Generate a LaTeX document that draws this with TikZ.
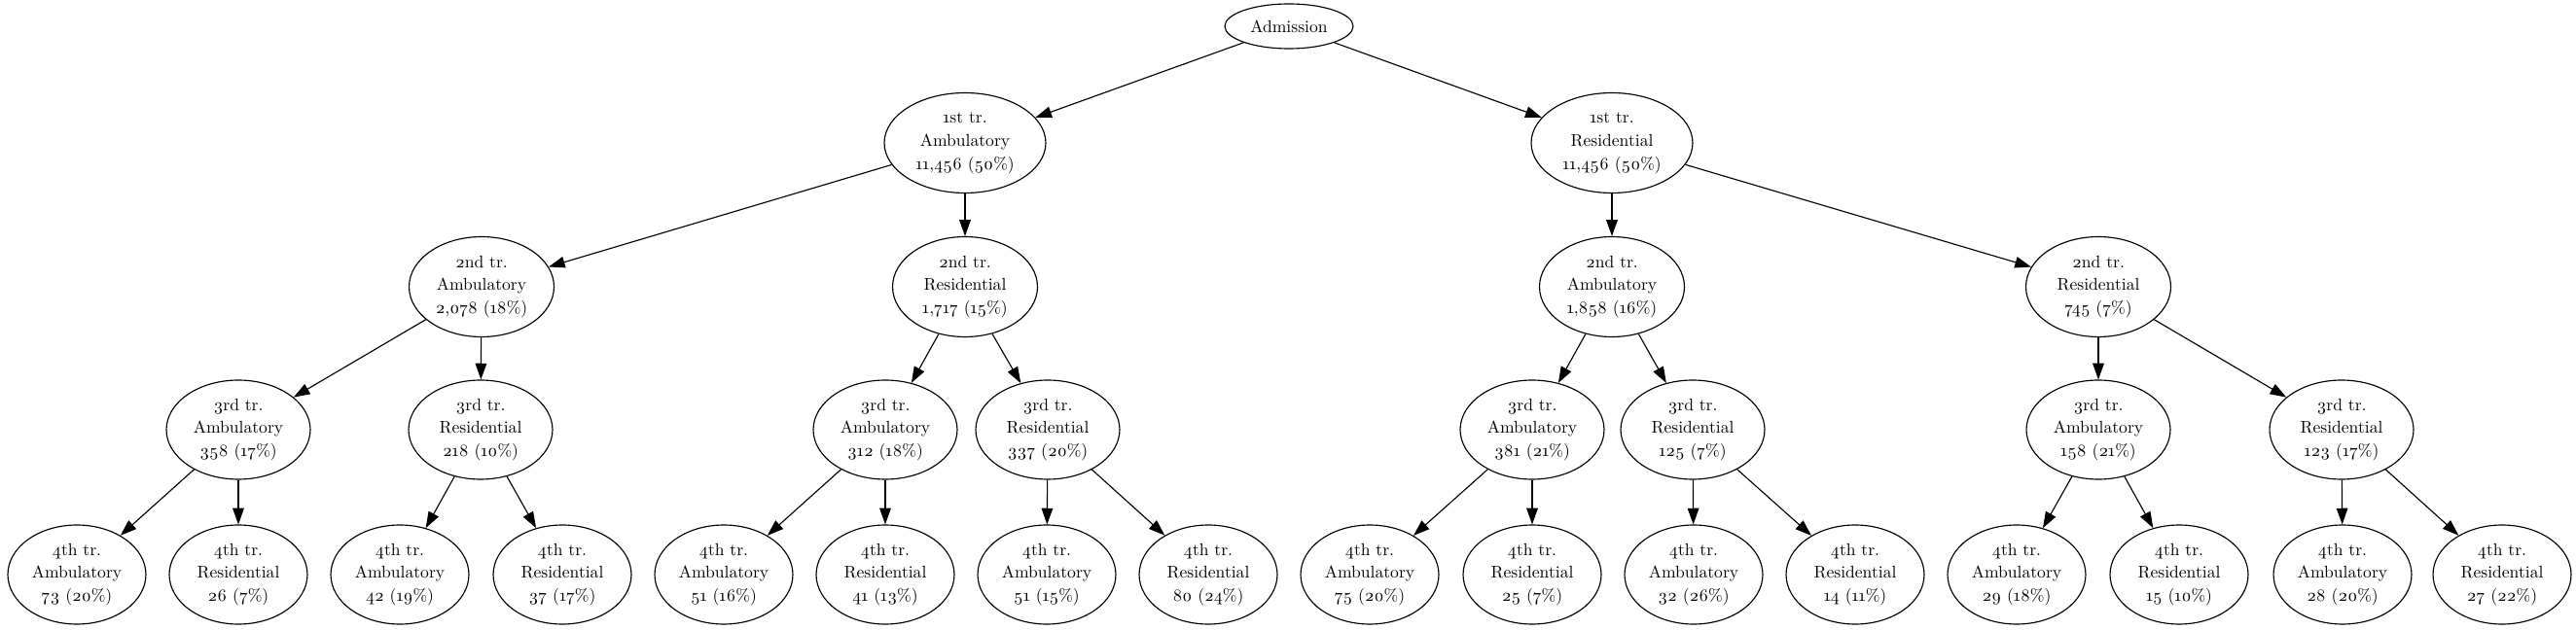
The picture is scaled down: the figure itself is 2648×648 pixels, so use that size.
\documentclass[tikz,border=0pt]{standalone}
\usepackage{fontspec}
\setmainfont{Latin Modern Roman}[Numbers=OldStyle]
\usetikzlibrary{shapes.geometric,arrows.meta}
\newcommand\osn[1]{#1}
\begin{document}
\begin{tikzpicture}[x=0.02cm,y=-0.02cm,
  every node/.style={ellipse,draw,line width=0.65pt,inner sep=0pt,align=center,
    font=\fontsize{10}{13.6}\selectfont},
  top/.style={minimum width=2.64cm,minimum height=0.92cm},
  lone/.style={minimum width=3.32cm,minimum height=2.06cm},
  ltwo/.style={minimum width=2.98cm,minimum height=2.06cm},
  lthree/.style={minimum width=2.96cm,minimum height=2.04cm},
  lfour/.style={minimum width=2.84cm,minimum height=2.04cm},
  edge/.style={line width=0.65pt,-{Triangle[length=9.5pt,width=6.6pt]}}]
\path[use as bounding box] (0,0) rectangle (2648,648);
\node[top] (adm) at (1325,27) {Admission};
% level 1
\node[lone] (a) at (992,147) {\osn{1}st tr.\\Ambulatory\\\osn{11},\osn{456} (\osn{50}\%)};
\node[lone] (r) at (1657,147) {\osn{1}st tr.\\Residential\\\osn{11},\osn{456} (\osn{50}\%)};
% level 2
\node[ltwo] (aa) at (495,295) {\osn{2}nd tr.\\Ambulatory\\\osn{2},\osn{078} (\osn{18}\%)};
\node[ltwo] (ar) at (992,295) {\osn{2}nd tr.\\Residential\\\osn{1},\osn{717} (\osn{15}\%)};
\node[ltwo] (ra) at (1657,295) {\osn{2}nd tr.\\Ambulatory\\\osn{1},\osn{858} (\osn{16}\%)};
\node[ltwo] (rr) at (2157,295) {\osn{2}nd tr.\\Residential\\\osn{745} (\osn{7}\%)};
% level 3
\node[lthree] (aaa) at (245,442) {\osn{3}rd tr.\\Ambulatory\\\osn{358} (\osn{17}\%)};
\node[lthree] (aar) at (494,442) {\osn{3}rd tr.\\Residential\\\osn{218} (\osn{10}\%)};
\node[lthree] (ara) at (910,442) {\osn{3}rd tr.\\Ambulatory\\\osn{312} (\osn{18}\%)};
\node[lthree] (arr) at (1077,442) {\osn{3}rd tr.\\Residential\\\osn{337} (\osn{20}\%)};
\node[lthree] (raa) at (1575,442) {\osn{3}rd tr.\\Ambulatory\\\osn{381} (\osn{21}\%)};
\node[lthree] (rar) at (1740,442) {\osn{3}rd tr.\\Residential\\\osn{125} (\osn{7}\%)};
\node[lthree] (rra) at (2157,442) {\osn{3}rd tr.\\Ambulatory\\\osn{158} (\osn{21}\%)};
\node[lthree] (rrr) at (2407,442) {\osn{3}rd tr.\\Residential\\\osn{123} (\osn{17}\%)};
% level 4
\node[lfour] (aaaa) at (79,591) {\osn{4}th tr.\\Ambulatory\\\osn{73} (\osn{20}\%)};
\node[lfour] (aaar) at (245,591) {\osn{4}th tr.\\Residential\\\osn{26} (\osn{7}\%)};
\node[lfour] (aara) at (411,591) {\osn{4}th tr.\\Ambulatory\\\osn{42} (\osn{19}\%)};
\node[lfour] (aarr) at (578,591) {\osn{4}th tr.\\Residential\\\osn{37} (\osn{17}\%)};
\node[lfour] (araa) at (744,591) {\osn{4}th tr.\\Ambulatory\\\osn{51} (\osn{16}\%)};
\node[lfour] (arar) at (910,591) {\osn{4}th tr.\\Residential\\\osn{41} (\osn{13}\%)};
\node[lfour] (arra) at (1076,591) {\osn{4}th tr.\\Ambulatory\\\osn{51} (\osn{15}\%)};
\node[lfour] (arrr) at (1242,591) {\osn{4}th tr.\\Residential\\\osn{80} (\osn{24}\%)};
\node[lfour] (raaa) at (1408,591) {\osn{4}th tr.\\Ambulatory\\\osn{75} (\osn{20}\%)};
\node[lfour] (raar) at (1575,591) {\osn{4}th tr.\\Residential\\\osn{25} (\osn{7}\%)};
\node[lfour] (rara) at (1741,591) {\osn{4}th tr.\\Ambulatory\\\osn{32} (\osn{26}\%)};
\node[lfour] (rarr) at (1907,591) {\osn{4}th tr.\\Residential\\\osn{14} (\osn{11}\%)};
\node[lfour] (rraa) at (2073,591) {\osn{4}th tr.\\Ambulatory\\\osn{29} (\osn{18}\%)};
\node[lfour] (rrar) at (2240,591) {\osn{4}th tr.\\Residential\\\osn{15} (\osn{10}\%)};
\node[lfour] (rrra) at (2408,591) {\osn{4}th tr.\\Ambulatory\\\osn{28} (\osn{20}\%)};
\node[lfour] (rrrr) at (2572,591) {\osn{4}th tr.\\Residential\\\osn{27} (\osn{22}\%)};
% edges
\foreach \p/\c in {adm/a,adm/r,
  a/aa,a/ar,r/ra,r/rr,
  aa/aaa,aa/aar,ar/ara,ar/arr,ra/raa,ra/rar,rr/rra,rr/rrr,
  aaa/aaaa,aaa/aaar,aar/aara,aar/aarr,ara/araa,ara/arar,arr/arra,arr/arrr,
  raa/raaa,raa/raar,rar/rara,rar/rarr,rra/rraa,rra/rrar,rrr/rrra,rrr/rrrr}
  \draw[edge] (\p) -- (\c);
\end{tikzpicture}
\end{document}
